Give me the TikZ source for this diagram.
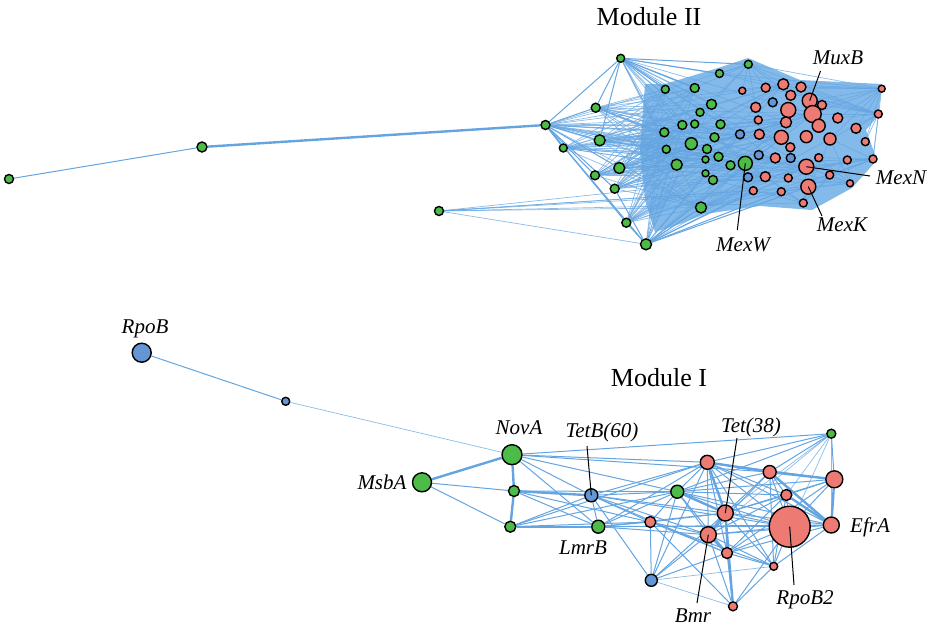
\documentclass[tikz,border=0pt]{standalone}
\usepackage{fontspec}
\setmainfont{Liberation Serif}
\usepackage{tikz}
\usetikzlibrary{positioning}
\definecolor{ngreen}{RGB}{76,187,72}
\definecolor{nred}{RGB}{238,122,116}
\definecolor{nblue}{RGB}{100,149,212}
\definecolor{eblue}{RGB}{100,165,225}
\definecolor{cblue}{RGB}{132,186,234}
\pgfdeclarelayer{bg}
\pgfsetlayers{bg,main}
\tikzset{
	nd/.style={circle, draw=black, line width=1.4pt, inner sep=0pt},
	gnode/.style={nd, fill=ngreen, minimum size=#1pt},
	rnode/.style={nd, fill=nred, minimum size=#1pt},
	bnode/.style={nd, fill=nblue, minimum size=#1pt},
	lk/.style={draw=eblue, line width=1pt},
	lkb/.style={draw=eblue, line width=2.4pt},
	lkf/.style={draw=eblue, line width=0.7pt, opacity=0.75},
	lab/.style={font=\fontsize{21}{25}\selectfont\itshape, inner sep=0pt},
	ttl/.style={font=\fontsize{26}{30}\selectfont, inner sep=0pt},
	lead/.style={draw=black, line width=1pt},
}

\begin{document}
\begin{tikzpicture}[x=1pt, y=-1pt]
		\useasboundingbox (0,0) rectangle (935,630);
		% titles
		\node[ttl] (t2) at (649,17) {Module II};
		\node[ttl] (t1) at (659,378) {Module I};
		% module II, outer green nodes
		\node[gnode=9] (p1) at (9,179) {};
		\node[gnode=10] (p2) at (202,147) {};
		\node[gnode=9] (p3) at (545.5,125) {};
		\node[gnode=9] (p4) at (439,211) {};
		\node[gnode=8] (p5) at (620.7,58.3) {};
		\node[gnode=9] (p6) at (595.7,107.7) {};
		\node[gnode=11] (p7) at (599.7,140.3) {};
		\node[gnode=8] (p8) at (563.3,148) {};
		\node[gnode=11] (p9) at (619.3,168) {};
		\node[gnode=9] (p10) at (595,175.3) {};
		\node[gnode=9] (p11) at (614.7,188.7) {};
		\node[gnode=9] (p12) at (626.3,222.7) {};
		\node[gnode=11] (p13) at (646,244.3) {};
		% module II, inner green nodes
		\node[gnode=8] (c1) at (665.3,89.3) {};
		\node[gnode=9] (c2) at (694.7,88) {};
		\node[gnode=8] (c3) at (719.5,73.5) {};
		\node[gnode=8] (c4) at (748.3,64.3) {};
		\node[gnode=10] (c5) at (711.5,104.3) {};
		\node[gnode=8] (c6) at (700,112.3) {};
		\node[gnode=9] (c7) at (682.3,125) {};
		\node[gnode=8] (c8) at (694.7,124) {};
		\node[gnode=9] (c9) at (720.5,124.3) {};
		\node[gnode=9] (c10) at (664.3,132.3) {};
		\node[gnode=9] (c11) at (714.5,137.3) {};
		\node[gnode=12] (c12) at (691.3,143.7) {};
		\node[gnode=8] (c13) at (666.3,149.3) {};
		\node[gnode=9] (c14) at (707,149) {};
		\node[gnode=9] (c15) at (718.5,156.7) {};
		\node[gnode=7] (c16) at (705.5,159.5) {};
		\node[gnode=11] (c17) at (676.7,164.7) {};
		\node[gnode=7] (c18) at (705.5,173.3) {};
		\node[gnode=9] (c19) at (713,180) {};
		\node[gnode=11] (c20) at (701,207.5) {};
		\node[gnode=9] (c21) at (730.5,165.3) {};
		\node[gnode=14] (mexW) at (745.3,163.3) {};
		% module II, blue nodes
		\node[bnode=9] (b1) at (772.7,102.3) {};
		\node[bnode=9] (b2) at (740,134.3) {};
		\node[bnode=9] (b3) at (758.7,155) {};
		\node[bnode=9] (b4) at (790.7,158) {};
		\node[bnode=9] (b5) at (748,177.3) {};
		% module II, red nodes
		\node[rnode=7] (r1) at (742.3,90.7) {};
		\node[rnode=9] (r2) at (765.7,87.7) {};
		\node[rnode=11] (r3) at (783.3,84.3) {};
		\node[rnode=10] (r4) at (801,87) {};
		\node[rnode=10] (r5) at (790.7,95.3) {};
		\node[rnode=15] (muxB) at (809.7,100.7) {};
		\node[rnode=9] (r6) at (822,105) {};
		\node[rnode=10] (r7) at (755.7,107.3) {};
		\node[rnode=15] (r8) at (788.3,110) {};
		\node[rnode=17] (r9) at (812.7,114) {};
		\node[rnode=10] (r10) at (837.7,118) {};
		\node[rnode=13] (r11) at (818.7,125.7) {};
		\node[rnode=11] (r12) at (786,122.3) {};
		\node[rnode=8] (r13) at (758.3,120) {};
		\node[rnode=10] (r14) at (856,128.3) {};
		\node[rnode=8] (r15) at (878.3,114) {};
		\node[rnode=7] (r16) at (881.7,88.7) {};
		\node[rnode=10] (r17) at (759.3,134.3) {};
		\node[rnode=14] (r18) at (781.3,137.3) {};
		\node[rnode=12] (r19) at (806.3,136.7) {};
		\node[rnode=12] (r20) at (830,139) {};
		\node[rnode=8] (r21) at (865.3,141.7) {};
		\node[rnode=9] (r22) at (790.3,147.3) {};
		\node[rnode=10] (r23) at (775.3,158) {};
		\node[rnode=8] (r24) at (818.7,157.7) {};
		\node[rnode=8] (r25) at (847.3,160) {};
		\node[rnode=8] (r26) at (873,159) {};
		\node[rnode=15] (mexN) at (806.3,166.7) {};
		\node[rnode=10] (r27) at (765.3,176.7) {};
		\node[rnode=8] (r28) at (788.3,178) {};
		\node[rnode=8] (r29) at (829.7,175) {};
		\node[rnode=7] (r30) at (850,183.3) {};
		\node[rnode=15] (mexK) at (808.3,186.7) {};
		\node[rnode=8] (r31) at (753.3,190.7) {};
		\node[rnode=8] (r32) at (781.3,191.7) {};
		\node[rnode=8] (r33) at (803.3,203) {};
		% module II, edges
		\begin{pgfonlayer}{bg}
			\fill[cblue] (645,84) -- (665,84) -- (718,68) -- (748,58) -- (800,80) -- (882,84)
				-- (878,116) -- (866,130) -- (877,160) -- (852,188) -- (812,210) -- (760,206)
				-- (705,214) -- (680,224) -- (655,232) -- (645,200) -- (640,150) -- cycle;
			\draw[lk] (p1) -- (p2);
			\draw[lkb] (p2) -- (p3);
			\foreach \b in {c20,p13,r31,r33,mexK,r32,r27}
				\draw[lkf] (p4) -- (\b);
			\foreach \a in {p3,p5,p6,p7,p8,p9,p10,p11,p12,p13}
				\foreach \b in {c1,c2,c5,c7,c10,c12,c13,c17,c20,mexW,r3,r9,r12,r18,mexN,r23,r27,b2,c15}
					\draw[lkf] (\a) -- (\b);
			\foreach \b in {p5,p6,p7,p8,p9,p10,p11,p12,p13}
				\draw[lk] (p3) -- (\b);
			\foreach \b in {p6,p7,c1,c2,c3,c4}
				\draw[lk] (p5) -- (\b);
			\foreach \b in {p12,p11,c20,r31,r32,mexK}
				\draw[lk] (p13) -- (\b);
			\foreach \a in {r15,r16}
				\foreach \b in {r4,r6,muxB,r9,r10,r14,c4,c3,r3,r2,r20,r21,r26}
					\draw[lkf] (\a) -- (\b);
			\foreach \b in {c1,c2,c3,r1,r2,r3,c5,r7,c6,r5}
				\draw[lkf] (c4) -- (\b);
			\foreach \a in {r26,r30,r33,c20}
				\foreach \b in {mexK,mexN,r29,r25,r24,r32,r27,c19,mexW,r20}
					\draw[lkf] (\a) -- (\b);
		\end{pgfonlayer}
		% module I nodes
		\node[bnode=19] (rpoB) at (141.7,352.7) {};
		\node[bnode=8] (bs) at (285.7,401.3) {};
		\node[gnode=20] (novA) at (512,454.7) {};
		\node[gnode=19] (msbA) at (422,482.3) {};
		\node[gnode=11] (m1) at (514,491) {};
		\node[gnode=11] (m2) at (510.3,526.7) {};
		\node[bnode=13] (tetB) at (591.3,495.3) {};
		\node[gnode=13] (lmrB) at (598.3,526.7) {};
		\node[gnode=9] (gA) at (831.3,433.7) {};
		\node[rnode=14] (rA) at (707.3,462.3) {};
		\node[rnode=13] (rB) at (769.7,472) {};
		\node[rnode=17] (rC) at (834.3,479.3) {};
		\node[gnode=13] (gB) at (677.3,491.7) {};
		\node[rnode=11] (rD) at (786.3,495) {};
		\node[rnode=16] (tet38) at (725.3,513) {};
		\node[rnode=41] (rpoB2) at (789.7,526.7) {};
		\node[rnode=16] (efrA) at (831.3,525) {};
		\node[rnode=11] (rE) at (650.3,522) {};
		\node[rnode=16] (bmr) at (708.3,534.7) {};
		\node[rnode=11] (rF) at (727,553) {};
		\node[rnode=8] (rG) at (773.7,566.3) {};
		\node[bnode=12] (bC) at (651.3,580.3) {};
		\node[rnode=9] (rH) at (733,606.3) {};
		% module I edges
		\begin{pgfonlayer}{bg}
			\draw[lk] (rpoB) -- (bs);
			\draw[lkf] (bs) -- (novA);
			\draw[lkb] (msbA) -- (novA);
			\draw[lk] (msbA) -- (m1);
			\draw[lk] (msbA) -- (m2);
			\draw[lkb] (novA) -- (m1);
			\draw[lkb] (m1) -- (m2);
			\draw[lkb] (m2) -- (lmrB);
			\draw[lkb] (m1) -- (tetB);
			\foreach \b in {tetB,lmrB,rA,gB,gA,rB}
				\draw[lk] (novA) -- (\b);
			\foreach \b in {lmrB,gB,rE}
				\draw[lk] (m1) -- (\b);
			\foreach \b in {tetB,gB,rE,rA}
				\draw[lk] (m2) -- (\b);
			\foreach \b in {lmrB,gB,rA,tet38,rpoB2,bmr,rE,bC,rF}
				\draw[lk] (tetB) -- (\b);
			\foreach \b in {gB,rA,rE,tet38,bmr,rpoB2,efrA}
				\draw[lk] (lmrB) -- (\b);
			\foreach \b in {rA,rB,rC,rD,rpoB2,efrA,rE,bmr,bC,rF,gA}
				\draw[lk] (gB) -- (\b);
			\draw[lkb] (gB) -- (tet38);
			\draw[lkb] (rA) -- (tet38);
			\draw[lkb] (rA) -- (rB);
			\draw[lkb] (rB) -- (rC);
			\draw[lkb] (rB) -- (efrA);
			\draw[lkb] (rC) -- (efrA);
			\draw[lkb] (tet38) -- (bmr);
			\draw[lkb] (bmr) -- (rF);
			\draw[lkb] (tet38) -- (rH);
			\draw[lkb] (rD) -- (efrA);
			\foreach \b in {gA,rC,rD,rpoB2,efrA,bmr,rF,rG,bC}
				\draw[lk] (rA) -- (\b);
			\foreach \b in {gA,rD,tet38,rpoB2,bmr,rG}
				\draw[lk] (rB) -- (\b);
			\foreach \b in {gA,rD,rpoB2,tet38,rF}
				\draw[lk] (rC) -- (\b);
			\foreach \b in {rD,efrA,tet38,rpoB2,bmr}
				\draw[lkf] (gA) -- (\b);
			\foreach \b in {tet38,rpoB2,bmr,rF,rG}
				\draw[lk] (rD) -- (\b);
			\foreach \b in {rpoB2,efrA,rF,rG,rE,bC}
				\draw[lk] (tet38) -- (\b);
			\foreach \b in {efrA,bmr,rF,rG,rH}
				\draw[lk] (rpoB2) -- (\b);
			\foreach \b in {rG,bmr,rF}
				\draw[lk] (efrA) -- (\b);
			\foreach \b in {bmr,bC,rF,rH,rG}
				\draw[lk] (rE) -- (\b);
			\foreach \b in {rG,rH,bC}
				\draw[lk] (bmr) -- (\b);
			\foreach \b in {rG,rH,bC}
				\draw[lk] (rF) -- (\b);
			\draw[lkf] (bC) -- (rH);
			\draw[lkf] (bC) -- (rG);
			\draw[lk] (rH) -- (rG);
		\end{pgfonlayer}
		% labels
		\node[lab] (muxBl) at (838,58) {MuxB};
		\node[lab] (mexWl) at (743,245) {MexW};
		\node[lab] (mexNl) at (901,178) {MexN};
		\node[lab] (mexKl) at (842,225) {MexK};
		\node[lab] (rpoBl) at (145,329) {RpoB};
		\node[lab] (novAl) at (519,428) {NovA};
		\node[lab] (msbAl) at (382,482) {MsbA};
		\node[lab] (tetBl) at (602,432) {TetB(60)};
		\node[lab] (lmrBl) at (583,548) {LmrB};
		\node[lab] (tet38l) at (751,427) {Tet(38)};
		\node[lab] (efrAl) at (870,527) {EfrA};
		\node[lab] (rpoB2l) at (805,600) {RpoB2};
		\node[lab] (bmrl) at (693,616) {Bmr};
		\coordinate (muxBt) at (820.5,71);
		\coordinate (mexWt) at (737.3,230);
		\coordinate (mexNt) at (870,176);
		\coordinate (mexKt) at (822,216);
		\coordinate (tetBt) at (587,446);
		\coordinate (tet38t) at (737,438);
		\coordinate (rpoB2t) at (794,585);
		\coordinate (bmrt) at (697,603);
		\draw[lead] (muxB.center) -- (muxBt);
		\draw[lead] (mexW.center) -- (mexWt);
		\draw[lead] (mexN.center) -- (mexNt);
		\draw[lead] (mexK.center) -- (mexKt);
		\draw[lead] (tetB.center) -- (tetBt);
		\draw[lead] (tet38.center) -- (tet38t);
		\draw[lead] (rpoB2.center) -- (rpoB2t);
		\draw[lead] (bmr.center) -- (bmrt);
\end{tikzpicture}
\end{document}
